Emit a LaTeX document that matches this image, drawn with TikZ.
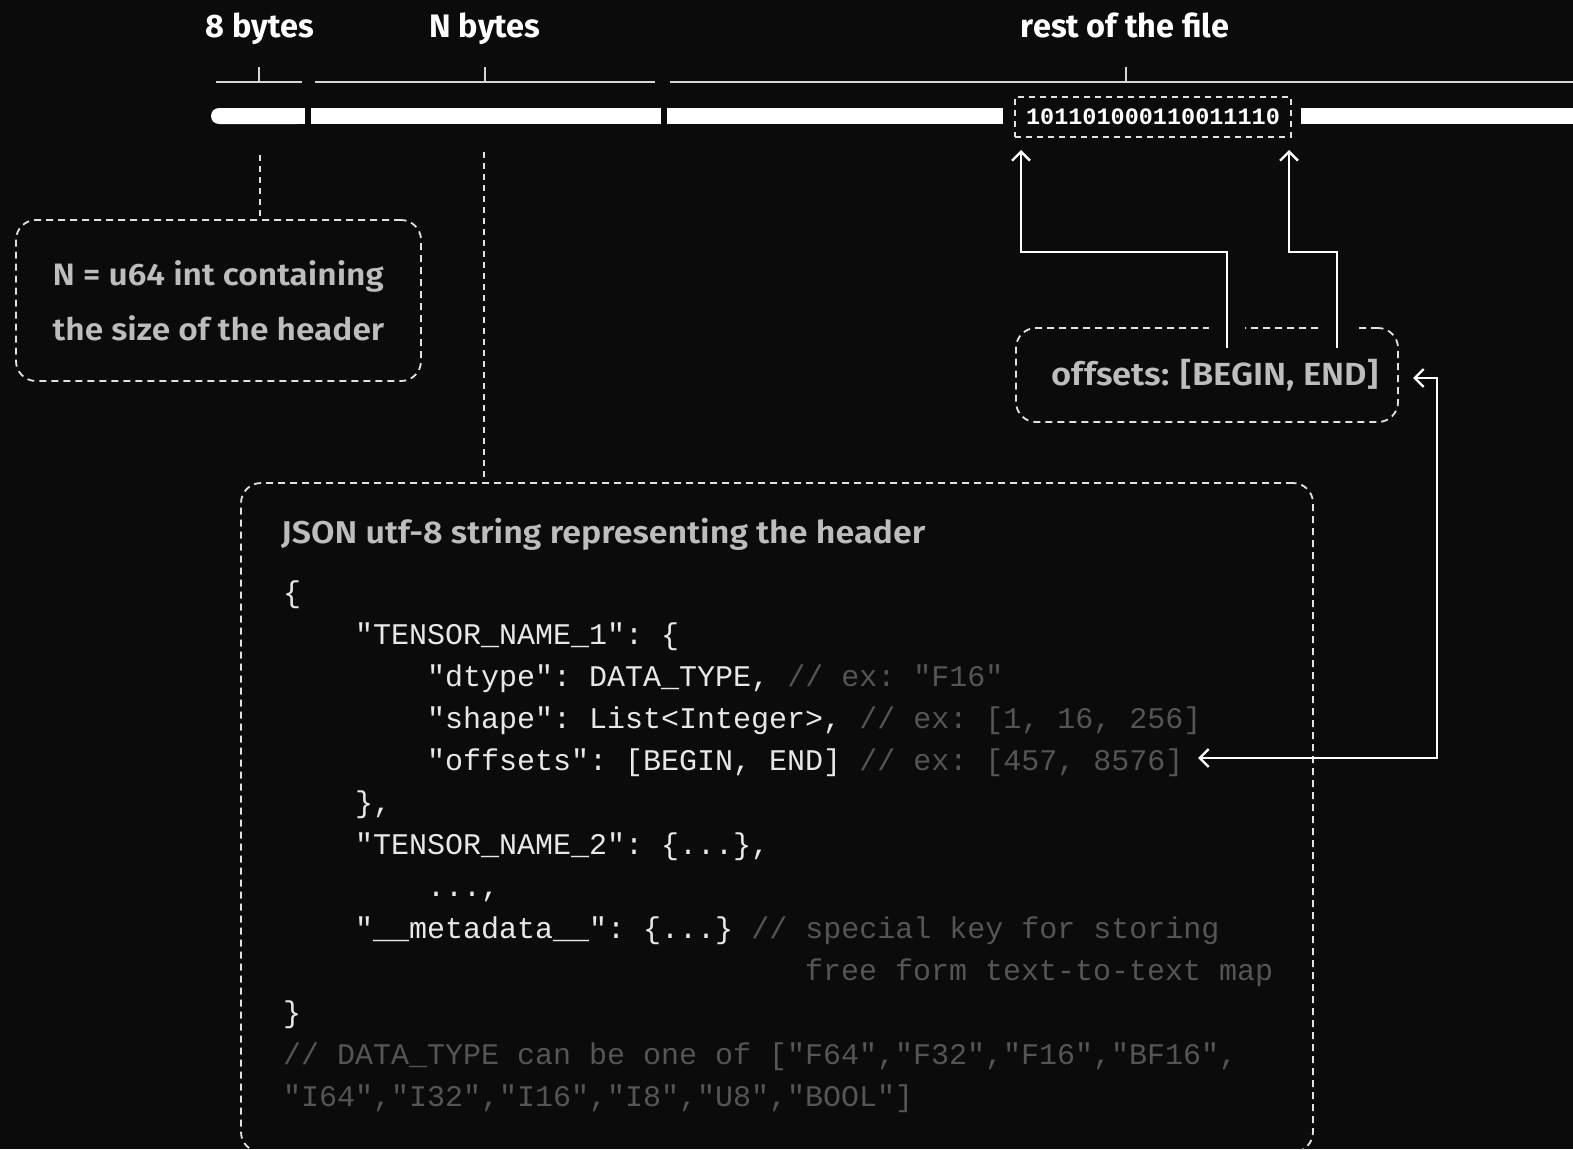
\documentclass[tikz,border=0pt]{standalone}
\usepackage{fontspec}
\setmainfont{Fira Sans}
\setmonofont{Liberation Mono}
\newfontfamily\semib{Fira Sans SemiBold}[FakeStretch=1.08]
\usetikzlibrary{arrows.meta}
\definecolor{bg}{HTML}{0B0B0B}
\definecolor{boxtxt}{HTML}{BDBDBD}
\definecolor{dashc}{HTML}{E2E2E2}
\definecolor{codew}{HTML}{E8E8E8}
\definecolor{cmtc}{HTML}{555555}
\definecolor{brkc}{HTML}{D6D6D6}
\newcommand\mycmt[1]{\textcolor{cmtc}{#1}}
\tikzset{
  dbox/.style={draw=dashc, line width=1.8pt, dash pattern=on 7pt off 5pt, rounded corners=20pt, text=boxtxt, font=\semib\fontsize{31}{55}\selectfont},
  dconn/.style={draw=dashc, line width=1.6pt, dash pattern=on 6pt off 5pt},
  brk/.style={draw=brkc, line width=1.5pt},
  toplbl/.style={anchor=base, inner sep=0, text=white, font=\bfseries\fontsize{32.5}{38}\selectfont},
  codeline/.style={anchor=base west, inner sep=0, text=codew, font=\ttfamily\frenchspacing\fontsize{30}{36}\selectfont},
  arr/.style={draw=white, line width=2.4pt, -{Straight Barb[length=9pt,width=18pt]}},
  arr2/.style={draw=white, line width=2.4pt, {Straight Barb[length=9pt,width=18pt]}-{Straight Barb[length=9pt,width=18pt]}},
  barseg/.style={fill=white}
}
\begin{document}
\begin{tikzpicture}[x=1pt,y=-1pt]
\useasboundingbox (0,0) rectangle (1573,1149);
\fill[bg] (0,0) rectangle (1573,1149);
% top labels
\node[toplbl] (l8) at (260,37) {8 bytes};
\node[toplbl] (lN) at (485,37) {N bytes};
\node[toplbl] (lR) at (1125,37) {rest of the file};
% brackets
\draw[brk] (216,82) -- (302,82);
\draw[brk] (259,82) -- (259,67);
\draw[brk] (315,82) -- (655,82);
\draw[brk] (485,82) -- (485,67);
\draw[brk] (670,82) -- (1573,82);
\draw[brk] (1126,82) -- (1126,67);
% bar
\fill[barseg, rounded corners=8pt] (211,108) rectangle (305,124);
\fill[barseg] (230,108) rectangle (305,124);
\fill[barseg] (311,108) rectangle (661,124);
\fill[barseg] (667,108) rectangle (1003,124);
\fill[barseg] (1301,108) rectangle (1573,124);
% binary box
\node[draw=dashc, line width=1.6pt, dash pattern=on 6pt off 5pt, minimum width=276pt, minimum height=40pt, inner sep=0,
      text=white, font=\ttfamily\bfseries\fontsize{23.5}{28}\selectfont] (binbox) at (1153,117) {101101000110011110};
% length box
\node[dbox, minimum width=405pt, minimum height=161pt, align=left] (lenbox) at (218.5,300.5)
  {N = u64 int containing\\the size of the header};
% offsets box
\node[dbox, minimum width=382pt, minimum height=94pt, font=\semib\fontsize{32}{38}\selectfont] (offbox) at (1207,375) {\hspace*{16pt}offsets: [BEGIN, END]};
% json box
\node[dbox, minimum width=1072pt, minimum height=669pt] (jsonbox) at (777,817.5) {};
% dashed connectors
\coordinate (c8) at (260,155);
\coordinate (cN) at (484,152);
\draw[dconn] (c8) -- (c8 |- lenbox.north);
\draw[dconn] (cN) -- (cN |- jsonbox.north);
% halos
\fill[bg] (1209,320) rectangle (1245,336);
\fill[bg] (1319,320) rectangle (1355,336);
% arrows to binary box
\coordinate (b1) at (1021,150);
\coordinate (b2) at (1289,150);
\coordinate (s1) at (1227,348);
\coordinate (s2) at (1337,348);
\draw[arr] (s1) -- (1227,252) -- (b1 |- 0,252) -- (b1);
\draw[arr] (s2) -- (1337,252) -- (b2 |- 0,252) -- (b2);
% title
\node[anchor=base west, inner sep=0, text=boxtxt, font=\semib\fontsize{31.5}{36}\selectfont] (title) at (281,543) {JSON utf-8 string representing the header};
% code
\node[codeline] (k1) at (283,602) {\{};
\node[codeline] (k2) at (355,644) {"TENSOR\_NAME\_1": \{};
\node[codeline] (k3) at (427,686) {"dtype": DATA\_TYPE, \mycmt{// ex: "F16"}};
\node[codeline] (k4) at (427,728) {"shape": List<Integer>, \mycmt{// ex: [1, 16, 256]}};
\node[codeline] (k5) at (427,770) {"offsets": [BEGIN, END] \mycmt{// ex: [457, 8576]}};
\node[codeline] (k6) at (355,812) {\},};
\node[codeline] (k7) at (355,854) {"TENSOR\_NAME\_2": \{...\},};
\node[codeline] (k8) at (427,896) {...,};
\node[codeline] (k9) at (355,938) {"\_\_metadata\_\_": \{...\} \mycmt{// special key for storing}};
\node[codeline] (k10) at (805,980) {\mycmt{free form text-to-text map}};
\node[codeline] (k11) at (283,1022) {\}};
\node[codeline] (k12) at (283,1064) {\mycmt{// DATA\_TYPE can be one of ["F64","F32","F16","BF16",}};
\node[codeline] (k13) at (283,1106) {\mycmt{"I64","I32","I16","I8","U8","BOOL"]}};
% offsets double arrow
\coordinate (offtip) at (1413,378);
\coordinate (codetip) at (1198,758);
\draw[arr2] (offtip) -- (1437,378) -- (1437,758) -- (codetip);
\end{tikzpicture}
\end{document}
